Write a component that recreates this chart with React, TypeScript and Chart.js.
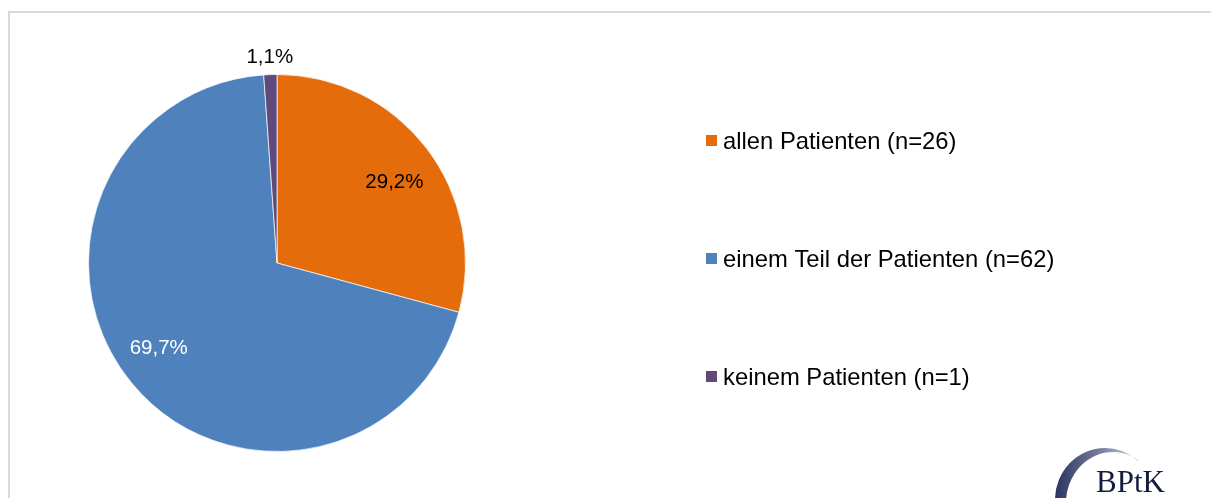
import React, { useEffect, useRef } from "react";
import { Chart, registerables } from "chart.js";

Chart.register(...registerables);

const categories = ["allen Patienten (n=26)", "einem Teil der Patienten (n=62)", "keinem Patienten (n=1)"];
const counts = [26, 62, 1];
const colors = ["#E46C0A", "#4F81BD", "#604A7B"];
const labelColors = ["#000000", "#ffffff", "#000000"];
const labelRadius = [0.755, 0.775, 1.09];
const labelAngleNudge = [3, 3.5, 0];

const FONT = "'Liberation Sans', Arial, sans-serif";

const overlayPlugin = {
  id: "overlay",
  afterDraw(chart: any) {
    const ctx = chart.ctx;
    const meta = chart.getDatasetMeta(0);
    const total = counts.reduce((a, b) => a + b, 0);
    ctx.save();
    // percent labels
    ctx.font = `20.5px ${FONT}`;
    ctx.textAlign = "center";
    ctx.textBaseline = "middle";
    meta.data.forEach((arc: any, i: number) => {
      const p = arc.getProps(["x", "y", "startAngle", "endAngle", "outerRadius"], true);
      const mid = (p.startAngle + p.endAngle) / 2 + (labelAngleNudge[i] * Math.PI) / 180;
      const r = p.outerRadius * labelRadius[i];
      const x = p.x + Math.cos(mid) * r;
      const y = p.y + Math.sin(mid) * r;
      const pct = ((counts[i] / total) * 100).toFixed(1).replace(".", ",") + "%";
      ctx.fillStyle = labelColors[i];
      ctx.fillText(pct, x, y);
    });
    // legend
    const lx = 706;
    const baselines = [149, 267, 385];
    ctx.textAlign = "left";
    ctx.textBaseline = "alphabetic";
    ctx.font = `23.8px ${FONT}`;
    categories.forEach((c, i) => {
      ctx.fillStyle = colors[i];
      ctx.fillRect(lx, baselines[i] - 14, 11, 11);
      ctx.fillStyle = "#000";
      ctx.fillText(c, lx + 17, baselines[i]);
    });
    // logo
    const g = ctx.createLinearGradient(1055, 0, 1140, 0);
    g.addColorStop(0, "#2a3462");
    g.addColorStop(0.55, "#7a819f");
    g.addColorStop(1, "#d6d8e2");
    ctx.beginPath();
    ctx.ellipse(1105, 500, 50, 52, 0, Math.PI, Math.PI * 2 - (50 * Math.PI) / 180, false);
    ctx.ellipse(1113, 503, 47, 51, 0, Math.PI * 2 - (55 * Math.PI) / 180, Math.PI, true);
    ctx.closePath();
    ctx.fillStyle = g;
    ctx.fill();
    ctx.font = "31px 'Liberation Serif', 'Times New Roman', serif";
    ctx.fillStyle = "#141c3f";
    ctx.fillText("BPtK", 1096, 492);
    ctx.restore();
  },
};

export default function App() {
  const ref = useRef<HTMLCanvasElement | null>(null);
  useEffect(() => {
    if (!ref.current) return;
    const chart = new Chart(ref.current, {
      type: "pie",
      data: {
        labels: categories,
        datasets: [
          {
            data: counts,
            backgroundColor: colors,
            borderColor: "rgba(255,255,255,0.7)",
            borderWidth: 1,
          },
        ],
      },
      options: {
        animation: false,
        responsive: false,
        devicePixelRatio: 1,
        layout: { padding: { left: 88, right: 745, top: 74, bottom: 46 } },
        plugins: { legend: { display: false }, tooltip: { enabled: false } },
      },
      plugins: [overlayPlugin],
    });
    return () => chart.destroy();
  }, []);
  return (
    <div style={{ position: "fixed", left: 0, top: 0, width: 1211, height: 498, overflow: "hidden", background: "#fff" }}>
      <div
        style={{
          position: "absolute",
          left: 8,
          top: 11,
          width: 1260,
          height: 560,
          border: "2px solid #dadada",
          boxSizing: "border-box",
        }}
      />
      <canvas ref={ref} width={1211} height={498} style={{ position: "absolute", left: 0, top: 0 }} />
    </div>
  );
}
